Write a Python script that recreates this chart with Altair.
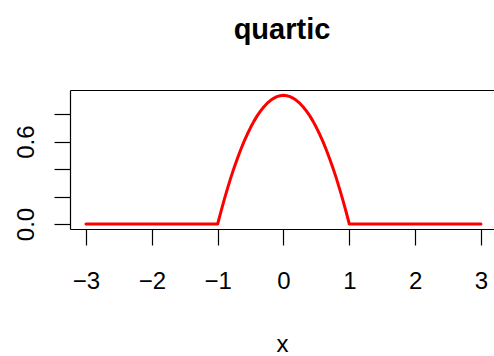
import altair as alt
import pandas as pd

# Kernel curve, sampled across [-3, 3]
x_vals = [-3.0, -1.0, -0.95, -0.9, -0.85, -0.8, -0.75, -0.7, -0.65, -0.6, -0.55,
          -0.5, -0.45, -0.4, -0.35, -0.3, -0.25, -0.2, -0.15, -0.1, -0.05, 0.0,
          0.05, 0.1, 0.15, 0.2, 0.25, 0.3, 0.35, 0.4, 0.45, 0.5,
          0.55, 0.6, 0.65, 0.7, 0.75, 0.8, 0.85, 0.9, 0.95, 1.0, 3.0]
density = [0.0, 0.0, 0.091, 0.178, 0.260, 0.338, 0.410, 0.478, 0.541, 0.600, 0.654,
           0.703, 0.748, 0.788, 0.823, 0.853, 0.879, 0.900, 0.916, 0.928, 0.935, 0.938,
           0.935, 0.928, 0.916, 0.900, 0.879, 0.853, 0.823, 0.788, 0.748, 0.703,
           0.654, 0.600, 0.541, 0.478, 0.410, 0.338, 0.260, 0.178, 0.091, 0.0, 0.0]

x_ticks = [-3, -2, -1, 0, 1, 2, 3]
y_ticks = [0.0, 0.2, 0.4, 0.6, 0.8]

df = pd.DataFrame({"x": x_vals, "y": density})

FONT = "Liberation Sans"
x_scale = alt.Scale(domain=[-3.243, 3.198], nice=False, zero=False)
y_scale = alt.Scale(domain=[-0.0364, 0.9767], nice=False, zero=False)

y_axis = alt.Axis(
    values=y_ticks, title=None, tickSize=16, labelPadding=21,
    labelAngle=270, labelAlign="center", labelBaseline="alphabetic",
    labelExpr="(abs(datum.value) < 1e-6 || abs(datum.value - 0.6) < 1e-6) ? format(datum.value, '.1f') : ''",
    labelFlush=False, labelOverlap=False)

curve = alt.Chart(df).mark_line(
    color="#FF0000", strokeWidth=3, strokeCap="round", strokeJoin="round"
).encode(
    x=alt.X("x:Q", scale=x_scale, axis=alt.Axis(
        values=x_ticks, format="d", title="x", tickSize=16, labelPadding=43,
        labelBaseline="alphabetic", titleY=122, titleBaseline="alphabetic",
        labelFlush=False, labelOverlap=False)),
    y=alt.Y("y:Q", scale=y_scale, axis=y_axis),
)

# Top edge of the plot box
frame_top = alt.Chart(df).mark_line(opacity=0).encode(
    x=alt.X("x:Q", scale=x_scale, axis=alt.Axis(
        orient="top", ticks=False, labels=False, title=None, domain=True)),
    y=alt.Y("y:Q", scale=y_scale, axis=y_axis),
)

chart = alt.layer(curve, frame_top).resolve_axis(x="independent").properties(
    width=424, height=139,
    title=alt.TitleParams("quartic", fontSize=29, fontWeight="bold", font=FONT,
                          anchor="middle", frame="group", baseline="alphabetic",
                          offset=22, color="black"),
    autosize=alt.AutoSizeParams(type="none"),
    padding={"left": 70, "top": 90, "right": 0, "bottom": 127},
).configure_view(stroke=None).configure_axis(
    domainColor="black", domainWidth=1.2, tickColor="black", tickWidth=1.2,
    labelColor="black", labelFont=FONT, labelFontSize=24, grid=False,
    titleFont=FONT, titleFontSize=24, titleFontWeight="normal", titleColor="black",
)

chart.save("out.html", embed_options={"renderer": "svg", "actions": False})
